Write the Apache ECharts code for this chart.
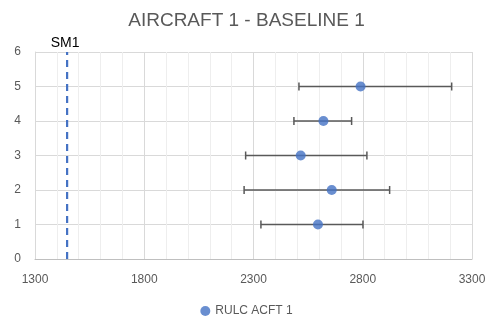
<!DOCTYPE html>
<html><head><meta charset="utf-8">
<script src="https://cdn.jsdelivr.net/npm/echarts@6/dist/echarts.min.js"></script>
<style>html,body{margin:0;padding:0;background:#fff}#c{width:493px;height:322px}</style>
</head><body><div id="c"></div>
<script>
const categories = [1, 2, 3, 4, 5];
const rulcValues = [2595, 2658, 2516, 2620, 2790];
const errLow = [2334, 2257, 2264, 2485, 2508];
const errHigh = [2801, 2923, 2819, 2749, 3207];
const sm1Value = 1447;
const xTicks = [1300, 1800, 2300, 2800, 3300];
const yTicks = [0, 1, 2, 3, 4, 5, 6];

const FONT = 'Liberation Sans';
const chart = echarts.init(document.getElementById('c'), null, {renderer: 'canvas'});
chart.setOption({
  animation: false,
  textStyle: {fontFamily: FONT},
  title: {text: 'AIRCRAFT 1 - BASELINE 1', left: 'center', top: 6,
    textStyle: {fontFamily: FONT, fontSize: 19, fontWeight: 'normal', color: '#595959'}},
  legend: {bottom: 0, left: 'center', data: ['RULC ACFT 1'], icon: 'circle', itemWidth: 10, itemHeight: 10, itemGap: 4,
    textStyle: {fontFamily: FONT, fontSize: 12, color: '#595959'}},
  grid: {left: 35, right: 21, top: 52, bottom: 63},
  xAxis: {type: 'value', min: xTicks[0], max: xTicks[xTicks.length - 1], interval: 500,
    axisLine: {show: true, lineStyle: {color: '#bfbfbf'}}, axisTick: {show: false},
    axisLabel: {color: '#595959', fontSize: 12, margin: 15, fontFamily: FONT, formatter: v => String(v)},
    splitLine: {show: true, lineStyle: {color: '#d9d9d9'}},
    minorTick: {show: false, splitNumber: 5},
    minorSplitLine: {show: true, lineStyle: {color: '#eeeeee'}}},
  yAxis: {type: 'value', min: yTicks[0], max: yTicks[yTicks.length - 1], interval: 1,
    axisLine: {show: true, lineStyle: {color: '#d9d9d9'}}, axisTick: {show: false},
    axisLabel: {color: '#595959', fontSize: 12, margin: 14, fontFamily: FONT},
    splitLine: {show: true, lineStyle: {color: '#d9d9d9'}}},
  series: [
    {type: 'custom', name: 'err', silent: true, z: 2,
      data: categories.map((c, i) => [errLow[i], errHigh[i], c]),
      renderItem: function (params, api) {
        const lo = api.coord([api.value(0), api.value(2)]);
        const hi = api.coord([api.value(1), api.value(2)]);
        const h = 4;
        const st = {stroke: '#595959', lineWidth: 1.5};
        return {type: 'group', children: [
          {type: 'line', shape: {x1: lo[0], y1: lo[1], x2: hi[0], y2: hi[1]}, style: st},
          {type: 'line', shape: {x1: lo[0], y1: lo[1] - h, x2: lo[0], y2: lo[1] + h}, style: st},
          {type: 'line', shape: {x1: hi[0], y1: hi[1] - h, x2: hi[0], y2: hi[1] + h}, style: st}
        ]};
      }},
    {type: 'scatter', name: 'RULC ACFT 1', z: 3, symbolSize: 10,
      itemStyle: {color: '#4472C4'},
      data: categories.map((c, i) => [rulcValues[i], c])},
    {type: 'line', name: 'SM1', z: 2, symbol: 'none',
      lineStyle: {color: '#4472C4', width: 2.2, type: [7, 5]},
      data: [[sm1Value, yTicks[0]], [sm1Value, yTicks[yTicks.length - 1]]],
      endLabel: {show: true, formatter: 'SM1', color: '#000', fontSize: 14, fontFamily: FONT, distance: 0,
        align: 'center', offset: [-2, -9]}}
  ]
});
</script></body></html>
